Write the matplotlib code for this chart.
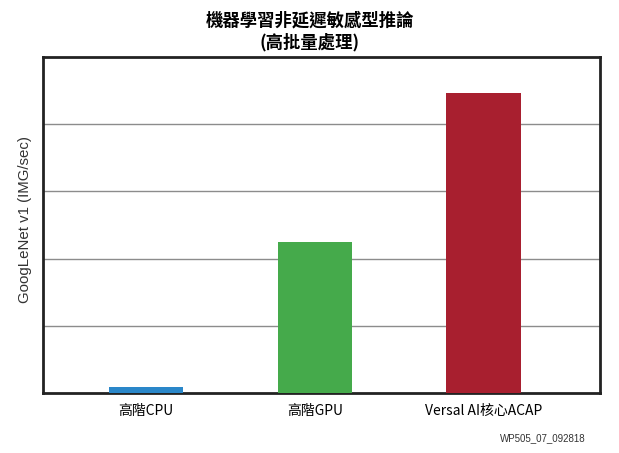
import matplotlib
matplotlib.use("Agg")
import matplotlib.pyplot as plt

plt.rcParams['font.family'] = ['Noto Sans CJK TC', 'DejaVu Sans']

categories = ["高階CPU", "高階GPU", "Versal AI核心ACAP"]
values = [0.09, 2.24, 4.47]
colors = ["#2a87c9", "#45aa4b", "#a81f2f"]

fig = plt.figure(figsize=(6.19, 4.53), dpi=100)
ax = fig.add_axes([43 / 619, 1 - 393 / 453, 557 / 619, 336 / 453])

x = range(len(categories))
ax.bar(x, values, width=0.44, color=colors, zorder=3)

ax.set_xlim(-0.61, 2.69)
ax.set_ylim(0, 5)
ax.set_yticks([1, 2, 3, 4])
ax.set_yticklabels([])
ax.tick_params(axis='y', length=0)
ax.tick_params(axis='x', length=0, pad=8, labelsize=10)
ax.set_xticks(list(x))
ax.set_xticklabels(categories)
ax.grid(axis='y', color="#8c8c8c", linewidth=1, zorder=1)

for s in ax.spines.values():
    s.set_linewidth(2)
    s.set_color("#222222")

ax.set_ylabel("GoogLeNet v1 (IMG/sec)", family=['Liberation Sans'],
              fontsize=10.8, color="#333333", va='center')
ax.yaxis.set_label_coords(-0.033, 0.515)

fig.text(0.5, 1 - 20 / 453, "機器學習非延遲敏感型推論", ha='center', va='center',
         fontsize=12.5, fontweight='bold')
fig.text(0.5, 1 - 42 / 453, "(高批量處理)", ha='center', va='center',
         fontsize=12.5, fontweight='bold')

fig.text(586 / 619, 1 - 438 / 453, "WP505_07_092818", ha='right', va='center',
         fontsize=7, family=['Liberation Sans'], color="#333333")

fig.savefig("out.png", dpi=100)
